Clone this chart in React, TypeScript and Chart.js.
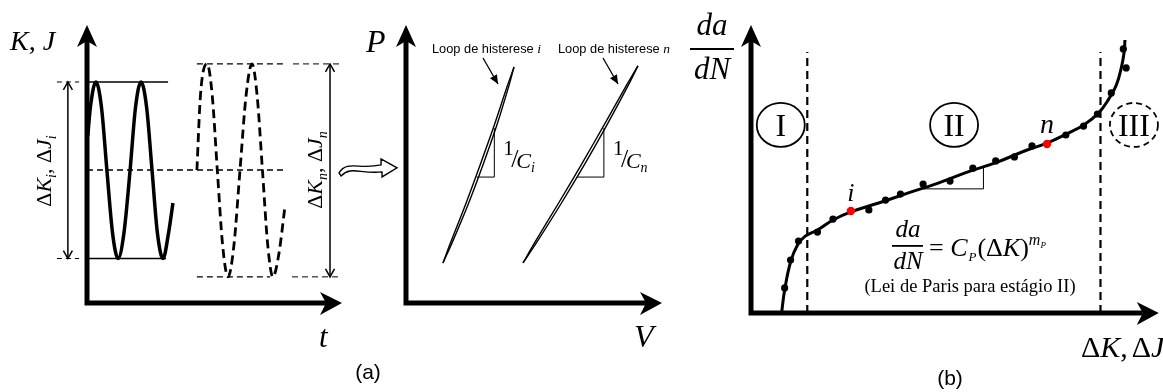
import React, { useEffect, useRef } from "react";
import { Chart, registerables } from "chart.js";
Chart.register(...registerables);

const W = 1163;
const H = 392;
const SERIF = '"Liberation Serif", "DejaVu Serif", serif';
const SANS = '"Liberation Sans", Arial, sans-serif';
const SI = (s: number) => `italic ${s}px ${SERIF}`;
const SR = (s: number) => `${s}px ${SERIF}`;

// ---------------- Panel (a), left: K,J versus t ----------------
const waveI_t = [0.3, 1.3, 3.5, 5.7, 7.8, 10.0, 12.2, 14.5, 16.9, 19.0, 21.2, 23.4, 25.5, 27.6, 29.8, 32.0, 33.7];
const waveI_K = [60, 70.2, 79.5, 70.2, 47.8, 25.3, 16, 25.3, 47.8, 70.2, 79.5, 70.2, 47.8, 25.3, 16, 25.3, 36];
const waveN_t = [43.1, 44.5, 47.1, 49.1, 51.1, 53.2, 55.3, 57.6, 60, 62.4, 64.7, 66.7, 68.8, 70.9, 72.9, 75.3, 77.6];
const waveN_K = [47.8, 74.8, 86, 74.8, 47.8, 20.6, 9.4, 20.6, 47.8, 74.8, 86, 74.8, 47.8, 20.6, 9.4, 18, 34.5];
const levelsI = [79.5, 16]; // max, min of cycle i
const levelsN = [86, 9.4]; // max, min of cycle n
const meanLevel = 47.8;

// ---------------- Panel (a), right: P versus V ----------------
const loopI_P = [14.4, 21.45, 35.55, 49.65, 63.75, 77.85, 84.9];
const loopI_Vload = [14.45, 17.9, 24.3, 30.05, 35.4, 40.1, 42.2];
const loopI_Vunload = [14.45, 17.3, 23.3, 28.95, 34.4, 39.5, 42.2];
const loopN_P = [14.4, 21.5, 35.7, 49.85, 64.0, 78.2, 85.3];
const loopN_Vload = [45.7, 50.85, 60.55, 69.75, 78.45, 86.75, 90.6];
const loopN_Vunload = [45.7, 50.15, 59.45, 68.55, 77.35, 86.05, 90.6];
const slopeI_V = [27.6, 34.5, 34.5];
const slopeI_P = [45.3, 45.3, 62.9];
const slopeN_V = [66.8, 77.3, 77.3];
const slopeN_P = [45.3, 45.3, 62.9];

// ---------------- Panel (b): da/dN versus dK,dJ ----------------
const fitDK = [7.5, 8.25, 9.7, 11.4, 13.3, 16.3, 20.1, 24.5, 31.3, 38.6, 45.9, 53.2, 60.4, 67.7, 72.6, 77.4, 81.6, 85.2, 87.6, 89.6, 90.8, 91.5, 91.7];
const fitDaDN = [0, 8.0, 17.7, 23.6, 26.7, 28.8, 32.3, 35.1, 38.2, 41.7, 45.1, 49.0, 52.4, 56.6, 59.0, 62.2, 65.3, 69.4, 74.0, 79.2, 85.1, 90.6, 94.8];
const pointsDK = [8.25, 9.7, 11.65, 16.3, 20.1, 28.9, 33.0, 36.65, 42.2, 48.8, 54.4, 60.0, 64.6, 68.9, 77.2, 81.55, 84.95, 88.35, 92.0, 91.3];
const pointsDaDN = [8.7, 18.4, 25.0, 28.1, 32.6, 35.8, 39.2, 41.3, 44.8, 45.8, 50.3, 52.8, 54.2, 58.0, 61.8, 64.9, 69.1, 76.4, 85.1, 91.7];
const highlightDK = [24.5, 72.6];
const highlightDaDN = [35.4, 58.7];
const stageBounds = [13.8, 85.7];
const stageTop = 90.6;
const stageLabels = ["I", "II", "III"];
const stageLabelDK = [7.3, 49.8, 93.9];
const stageLabelY = 65.3;
const parisSlopeDK = [42.2, 57.0, 57.0];
const parisSlopeDaDN = [43.1, 43.1, 50.7];

type Pt = { x: number; y: number };
const zip = (xs: number[], ys: number[]): Pt[] => xs.map((x, i) => ({ x, y: ys[i] }));
const seg = (x1: number, y1: number, x2: number, y2: number): Pt[] => [
  { x: x1, y: y1 },
  { x: x2, y: y2 },
];
const line = (data: Pt[], o: any = {}) => ({
  data,
  showLine: true,
  borderColor: "#000",
  backgroundColor: "#000",
  borderWidth: 1.3,
  pointRadius: 0,
  tension: 0,
  clip: false,
  fill: false,
  ...o,
});

type Run = { s: string; f: string; dy?: number; dx?: number };
function drawRuns(ctx: CanvasRenderingContext2D, runs: Run[], x: number, y: number, align = "left") {
  let total = 0;
  for (const r of runs) {
    ctx.font = r.f;
    total += ctx.measureText(r.s).width + (r.dx || 0);
  }
  let cx = align === "center" ? x - total / 2 : align === "right" ? x - total : x;
  ctx.textAlign = "left";
  ctx.textBaseline = "alphabetic";
  for (const r of runs) {
    ctx.font = r.f;
    cx += r.dx || 0;
    ctx.fillText(r.s, cx, y + (r.dy || 0));
    cx += ctx.measureText(r.s).width;
  }
}

function drawAxes(c: any) {
  const ctx: CanvasRenderingContext2D = c.ctx;
  const { left, right, top, bottom } = c.chartArea;
  ctx.save();
  ctx.strokeStyle = "#000";
  ctx.fillStyle = "#000";
  ctx.lineWidth = 5;
  ctx.beginPath();
  ctx.moveTo(left, bottom + 2.5);
  ctx.lineTo(left, top + 16);
  ctx.moveTo(left - 2.5, bottom);
  ctx.lineTo(right - 16, bottom);
  ctx.stroke();
  ctx.beginPath();
  ctx.moveTo(left, top);
  ctx.lineTo(left + 10, top + 22);
  ctx.lineTo(left, top + 16);
  ctx.lineTo(left - 10, top + 22);
  ctx.closePath();
  ctx.fill();
  ctx.beginPath();
  ctx.moveTo(right, bottom);
  ctx.lineTo(right - 22, bottom - 11);
  ctx.lineTo(right - 16, bottom);
  ctx.lineTo(right - 22, bottom + 12);
  ctx.closePath();
  ctx.fill();
  ctx.restore();
}

function vHead(ctx: CanvasRenderingContext2D, x: number, y: number, fx: number, fy: number, len = 8, half = 4.5) {
  const a = Math.atan2(y - fy, x - fx);
  ctx.beginPath();
  ctx.moveTo(x - len * Math.cos(a) + half * Math.sin(a), y - len * Math.sin(a) - half * Math.cos(a));
  ctx.lineTo(x, y);
  ctx.lineTo(x - len * Math.cos(a) - half * Math.sin(a), y - len * Math.sin(a) + half * Math.cos(a));
  ctx.stroke();
}

function arrow(ctx: CanvasRenderingContext2D, x1: number, y1: number, x2: number, y2: number, both: boolean, w = 1.5) {
  ctx.save();
  ctx.strokeStyle = "#000";
  ctx.lineWidth = w;
  ctx.beginPath();
  ctx.moveTo(x1, y1);
  ctx.lineTo(x2, y2);
  ctx.stroke();
  vHead(ctx, x2, y2, x1, y1);
  if (both) vHead(ctx, x1, y1, x2, y2);
  ctx.restore();
}

function config(datasets: any[], padding: any, xr: number[], yr: number[], draw: (c: any) => void) {
  return {
    type: "scatter",
    data: { datasets },
    options: {
      responsive: false,
      animation: false,
      devicePixelRatio: 1,
      events: [],
      layout: { padding },
      scales: {
        x: { type: "linear", min: xr[0], max: xr[1], display: false },
        y: { type: "linear", min: yr[0], max: yr[1], display: false },
      },
      plugins: { legend: { display: false }, tooltip: { enabled: false }, title: { display: false } },
    },
    plugins: [{ id: "decor", afterDraw: (c: any) => draw(c) }],
  } as any;
}

// ---------- Panel 1 ----------
function panel1() {
  const ds = [
    line(zip(waveI_t, waveI_K), { borderWidth: 3.5, cubicInterpolationMode: "monotone" }),
    line(zip(waveN_t, waveN_K), { borderWidth: 2.8, cubicInterpolationMode: "monotone", borderDash: [9, 5] }),
    line(seg(0, levelsI[0], 31.8, levelsI[0])),
    line(seg(0, levelsI[1], 31, levelsI[1])),
    line(seg(-11.8, levelsI[0], -3.1, levelsI[0]), { borderDash: [5, 4], borderWidth: 1 }),
    line(seg(-11.8, levelsI[1], -3.1, levelsI[1]), { borderDash: [5, 4], borderWidth: 1 }),
    line(seg(0, meanLevel, 77.6, meanLevel), { borderDash: [6, 4], borderWidth: 1.5 }),
    line(seg(43.1, levelsN[0], 76.9, levelsN[0]), { borderDash: [6, 4], borderWidth: 1.3 }),
    line(seg(80.8, levelsN[0], 99.2, levelsN[0]), { borderDash: [6, 4], borderWidth: 1 }),
    line(seg(43.1, levelsN[1], 71.8, levelsN[1]), { borderDash: [6, 4], borderWidth: 1.3 }),
    line(seg(80.4, levelsN[1], 98.4, levelsN[1]), { borderDash: [6, 4], borderWidth: 1 }),
  ];
  return config(ds, { left: 87, right: W - 342, top: 25, bottom: H - 303 }, [0, 100], [0, 100], (c) => {
    const ctx: CanvasRenderingContext2D = c.ctx;
    const sx = (v: number) => c.scales.x.getPixelForValue(v);
    const sy = (v: number) => c.scales.y.getPixelForValue(v);
    drawAxes(c);
    arrow(ctx, sx(-7.5), sy(levelsI[0]), sx(-7.5), sy(levelsI[1]), true);
    arrow(ctx, sx(95.3), sy(levelsN[0]), sx(95.3), sy(levelsN[1]), true);
    ctx.save();
    ctx.fillStyle = "#000";
    drawRuns(ctx, [{ s: "K", f: SI(28) }, { s: ", ", f: SR(28) }, { s: "J", f: SI(28) }], 10, 50);
    drawRuns(ctx, [{ s: "t", f: SI(31) }], 319, 347);
    const rot = (cx: number, cy: number, sub: string) => {
      ctx.save();
      ctx.translate(cx, cy);
      ctx.rotate(-Math.PI / 2);
      drawRuns(
        ctx,
        [
          { s: "Δ", f: SR(22) },
          { s: "K", f: SI(22) },
          { s: sub, f: SI(14), dy: 5 },
          { s: ", Δ", f: SR(22) },
          { s: "J", f: SI(22) },
          { s: sub, f: SI(14), dy: 5 },
        ],
        0,
        0,
        "center"
      );
      ctx.restore();
    };
    rot(51, 171, "i");
    rot(322, 170, "n");
    ctx.restore();
  });
}

// ---------- Panel 2 ----------
function panel2() {
  const ds = [
    line(zip(loopI_Vload, loopI_P), { borderWidth: 1.4, tension: 0.3 }),
    line(zip(loopI_Vunload, loopI_P), { borderWidth: 1.4, tension: 0.3 }),
    line(zip(loopN_Vload, loopN_P), { borderWidth: 1.4, tension: 0.3 }),
    line(zip(loopN_Vunload, loopN_P), { borderWidth: 1.4, tension: 0.3 }),
    line(zip(slopeI_V, slopeI_P), { borderWidth: 1 }),
    line(zip(slopeN_V, slopeN_P), { borderWidth: 1 }),
  ];
  return config(ds, { left: 406, right: W - 662, top: 25, bottom: H - 303 }, [0, 100], [0, 100], (c) => {
    const ctx: CanvasRenderingContext2D = c.ctx;
    const sx = (v: number) => c.scales.x.getPixelForValue(v);
    const sy = (v: number) => c.scales.y.getPixelForValue(v);
    drawAxes(c);
    ctx.save();
    ctx.fillStyle = "#000";
    drawRuns(ctx, [{ s: "P", f: SI(32) }], 366, 52);
    drawRuns(ctx, [{ s: "V", f: SI(32) }], 634, 347);
    ctx.font = `21px ${SANS}`;
    ctx.textAlign = "center";
    ctx.textBaseline = "middle";
    ctx.fillText("(a)", 368, 373);
    drawRuns(ctx, [{ s: "Loop de histerese ", f: `12.8px ${SANS}` }, { s: "i", f: SI(13.5) }], 432, 53);
    drawRuns(ctx, [{ s: "Loop de histerese ", f: `12.8px ${SANS}` }, { s: "n", f: SI(13.5) }], 558, 53);
    ctx.strokeStyle = "#000";
    ctx.lineWidth = 1.3;
    const la = (x1: number, y1: number, x2: number, y2: number) => {
      ctx.beginPath();
      ctx.moveTo(x1, y1);
      ctx.lineTo(x2, y2);
      ctx.stroke();
      const a = Math.atan2(y2 - y1, x2 - x1);
      ctx.beginPath();
      ctx.moveTo(x2, y2);
      ctx.lineTo(x2 - 9 * Math.cos(a) + 4 * Math.sin(a), y2 - 9 * Math.sin(a) - 4 * Math.cos(a));
      ctx.lineTo(x2 - 9 * Math.cos(a) - 4 * Math.sin(a), y2 - 9 * Math.sin(a) + 4 * Math.cos(a));
      ctx.closePath();
      ctx.fill();
    };
    la(483, 58, 498, 84);
    la(603, 58, 618, 84);
    // 1/C labels anchored at slope triangles
    const comp = (vx: number, sub: string) => {
      const x0 = sx(vx);
      drawRuns(ctx, [{ s: "1", f: SR(21) }], x0 + 9, 155);
      drawRuns(ctx, [{ s: "/", f: SR(26) }], x0 + 17, 167);
      drawRuns(ctx, [{ s: "C", f: SI(22) }, { s: sub, f: SI(14), dy: 4 }], x0 + 22, 168);
    };
    comp(slopeI_V[1], "i");
    comp(slopeN_V[1], "n");
    // hollow transition arrow, anchored left of the P axis
    const tx = sx(-3.5);
    const ty = sy(48.6);
    ctx.lineWidth = 1.4;
    ctx.fillStyle = "#fff";
    ctx.beginPath();
    ctx.moveTo(tx - 58, ty + 5);
    ctx.bezierCurveTo(tx - 50, ty - 8, tx - 38, ty + 2, tx - 16, ty - 3);
    ctx.lineTo(tx - 16, ty - 9);
    ctx.lineTo(tx, ty);
    ctx.lineTo(tx - 15, ty + 9);
    ctx.lineTo(tx - 15, ty + 4);
    ctx.bezierCurveTo(tx - 38, ty + 6, tx - 46, ty - 2, tx - 56, ty + 8);
    ctx.closePath();
    ctx.fill();
    ctx.stroke();
    ctx.restore();
  });
}

// ---------- Panel 3 ----------
function panel3() {
  const ds = [
    line(zip(highlightDK, highlightDaDN), { showLine: false, pointRadius: 4.2, pointBackgroundColor: "#ff0000", pointBorderWidth: 0, backgroundColor: "#ff0000" }),
    line(zip(pointsDK, pointsDaDN), { showLine: false, pointRadius: 3.6, pointBackgroundColor: "#000", pointBorderWidth: 0 }),
    line(zip(fitDK, fitDaDN), { borderWidth: 3, tension: 0.4 }),
    line(zip(parisSlopeDK, parisSlopeDaDN), { borderWidth: 1 }),
    line(seg(stageBounds[0], 0, stageBounds[0], stageTop), { borderWidth: 2.2, borderDash: [8, 5] }),
    line(seg(stageBounds[1], 0, stageBounds[1], stageTop), { borderWidth: 2.2, borderDash: [8, 5] }),
  ];
  return config(ds, { left: 751, right: 0, top: 25, bottom: H - 313 }, [0, 100], [0, 100], (c) => {
    const ctx: CanvasRenderingContext2D = c.ctx;
    const sx = (v: number) => c.scales.x.getPixelForValue(v);
    const sy = (v: number) => c.scales.y.getPixelForValue(v);
    drawAxes(c);
    ctx.save();
    ctx.fillStyle = "#000";
    ctx.strokeStyle = "#000";
    // stage circles
    stageLabels.forEach((lab, i) => {
      const cx = sx(stageLabelDK[i]);
      const cy = sy(stageLabelY);
      ctx.lineWidth = 1.8;
      ctx.setLineDash(i === 2 ? [6, 4] : []);
      ctx.beginPath();
      ctx.ellipse(cx, cy, 24, 22, 0, 0, Math.PI * 2);
      ctx.stroke();
      ctx.setLineDash([]);
      ctx.font = SR(32);
      ctx.textAlign = "center";
      ctx.textBaseline = "alphabetic";
      ctx.fillText(lab, cx, cy + 11);
    });
    // y label da/dN
    drawRuns(ctx, [{ s: "da", f: SI(31) }], 712, 35, "center");
    ctx.fillRect(690, 48, 44, 2);
    drawRuns(ctx, [{ s: "dN", f: SI(31) }], 712, 79, "center");
    // x label
    drawRuns(
      ctx,
      [
        { s: "Δ", f: SR(30) },
        { s: "K", f: SI(30) },
        { s: ",", f: SR(30) },
        { s: "Δ", f: SR(30), dx: 4 },
        { s: "J", f: SI(30) },
      ],
      1081,
      357
    );
    // point labels
    drawRuns(ctx, [{ s: "i", f: SI(26) }], sx(highlightDK[0]), sy(highlightDaDN[0]) - 10, "center");
    drawRuns(ctx, [{ s: "n", f: SI(28) }], sx(highlightDK[1]), sy(highlightDaDN[1]) - 11, "center");
    // Paris law
    drawRuns(ctx, [{ s: "da", f: SI(25) }], 908, 237, "center");
    ctx.fillRect(892, 245, 31, 1.8);
    drawRuns(ctx, [{ s: "dN", f: SI(25) }], 908, 269, "center");
    drawRuns(
      ctx,
      [
        { s: "= ", f: SR(26) },
        { s: "C", f: SI(26) },
        { s: "P", f: SI(13), dy: 5, dx: 1 },
        { s: "(Δ", f: SR(26), dx: 1 },
        { s: "K", f: SI(26) },
        { s: ")", f: SR(26) },
        { s: "m", f: SI(16), dy: -11 },
        { s: "P", f: SI(9), dy: -8 },
      ],
      929,
      256
    );
    ctx.font = SR(18.5);
    ctx.textAlign = "center";
    ctx.textBaseline = "middle";
    ctx.fillText("(Lei de Paris para estágio II)", 970, 287);
    ctx.font = `21px ${SANS}`;
    ctx.fillText("(b)", 950, 379);
    ctx.restore();
  });
}

export default function App() {
  const r1 = useRef<HTMLCanvasElement>(null);
  const r2 = useRef<HTMLCanvasElement>(null);
  const r3 = useRef<HTMLCanvasElement>(null);
  useEffect(() => {
    const charts = [new Chart(r1.current!, panel1()), new Chart(r2.current!, panel2()), new Chart(r3.current!, panel3())];
    return () => charts.forEach((ch) => ch.destroy());
  }, []);
  const cs: React.CSSProperties = { position: "absolute", left: 0, top: 0, width: W, height: H };
  return (
    <div style={{ position: "fixed", left: 0, top: 0, width: W, height: H, background: "#fff", overflow: "hidden" }}>
      <canvas ref={r1} width={W} height={H} style={cs} />
      <canvas ref={r2} width={W} height={H} style={cs} />
      <canvas ref={r3} width={W} height={H} style={cs} />
    </div>
  );
}
